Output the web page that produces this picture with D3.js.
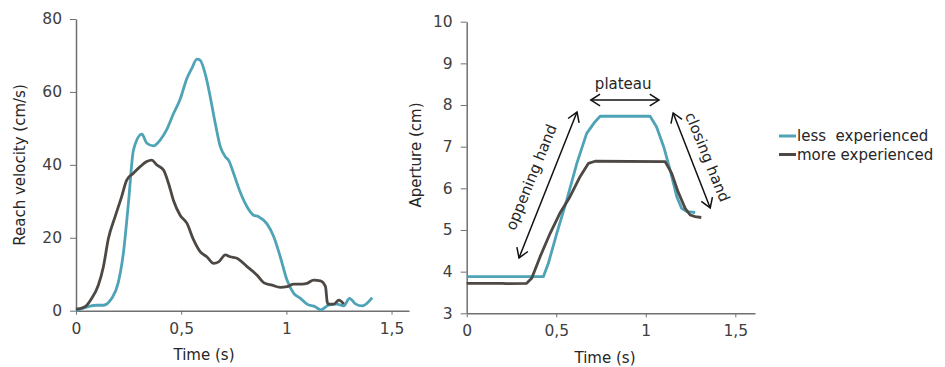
<!DOCTYPE html>
<html lang="en">
<head>
  <meta charset="UTF-8">
  <title>Reach velocity and aperture</title>
  <script src="https://d3js.org/d3.v7.min.js"></script>
  <style>
    body {
      margin: 0;
      background: #fff;
      font-family: "DejaVu Sans", sans-serif;
    }
    .tick text { fill: #404040; font-size: 15.5px; font-family: "DejaVu Sans", sans-serif; }
    .axis path, .axis line { stroke: #707070; }
    .title { fill: #262626; font-size: 15px; }
  </style>
</head>
<body>
<svg width="945" height="367"></svg>

<script>
  // left panel: reach velocity (time s, cm/s)
  const lessVelT = [0, 0.1, 0.13, 0.17, 0.2, 0.225, 0.25, 0.273, 0.313, 0.336, 0.368, 0.4, 0.43, 0.463, 0.495, 0.527, 0.55, 0.575, 0.59, 0.614, 0.638, 0.662, 0.686, 0.71, 0.725, 0.749, 0.78, 0.813, 0.844, 0.868, 0.908, 0.94, 0.971, 1.003, 1.035, 1.067, 1.098, 1.138, 1.162, 1.2, 1.24, 1.273, 1.3, 1.33, 1.36, 1.408];
  const lessVel = [0, 1.5, 1.5, 3.4, 7.5, 15.7, 30, 44, 48.4, 46, 45.2, 46.8, 49.5, 54, 58, 63.7, 66.4, 69, 68.7, 65, 58.7, 51.4, 45, 42.2, 41.3, 37.7, 32.6, 28.5, 26.2, 25.8, 23.8, 20.3, 14.8, 8.4, 4.75, 3.4, 1.8, 1.1, 0.2, 1.5, 1.8, 1.3, 3.4, 1.8, 1.3, 3.6];
  const moreVelT = [0, 0.043, 0.075, 0.106, 0.13, 0.154, 0.186, 0.217, 0.241, 0.273, 0.305, 0.336, 0.36, 0.384, 0.416, 0.44, 0.463, 0.495, 0.527, 0.559, 0.59, 0.622, 0.654, 0.678, 0.71, 0.733, 0.765, 0.813, 0.86, 0.892, 0.932, 0.971, 1.003, 1.035, 1.075, 1.098, 1.13, 1.162, 1.186, 1.194, 1.2, 1.225, 1.25, 1.273];
  const moreVel = [0.4, 1.1, 3.4, 7, 12, 19.8, 25.8, 31.3, 35.8, 37.7, 39.5, 40.9, 41.3, 40, 38.6, 34.9, 30.3, 26.2, 24, 19.4, 16.2, 14.8, 13, 13.4, 15.3, 14.8, 14.4, 12.1, 9.8, 7.7, 7, 6.4, 6.6, 7.3, 7.3, 7.5, 8.4, 8.2, 6.6, 2.5, 1.8, 1.8, 2.9, 1.8];

  // right panel: aperture (time s, cm)
  const lessApT = [0, 0.428, 0.456, 0.503, 0.559, 0.615, 0.67, 0.717, 0.745, 1.024, 1.06, 1.1, 1.136, 1.173, 1.2, 1.23, 1.276];
  const lessAp = [3.88, 3.88, 4.2, 4.92, 5.72, 6.6, 7.32, 7.6, 7.73, 7.73, 7.48, 7.0, 6.44, 5.8, 5.52, 5.44, 5.42];
  const moreApT = [0, 0.2, 0.22, 0.335, 0.363, 0.41, 0.466, 0.52, 0.577, 0.633, 0.68, 0.717, 1.108, 1.145, 1.18, 1.22, 1.248, 1.276, 1.31];
  const moreAp = [3.72, 3.72, 3.71, 3.72, 3.84, 4.36, 4.92, 5.4, 5.8, 6.28, 6.6, 6.65, 6.64, 6.36, 5.92, 5.52, 5.36, 5.32, 5.3];

  const timeTicks = [0, 0.5, 1, 1.5];
  const velTicks = [0, 20, 40, 60, 80];
  const apTicks = [3, 4, 5, 6, 7, 8, 9, 10];

  const seriesNames = ["less  experienced", "more experienced"];
  const seriesColors = ["#4fa3b6", "#4d4843"];

  // annotations on the aperture panel, in data units
  const arrows = [
    { from: [0.693, 8.12], to: [1.074, 8.12] },
    { from: [0.292, 4.33], to: [0.616, 7.83] },
    { from: [1.153, 7.81], to: [1.36, 5.53] }
  ];
  const notes = [
    { text: "plateau", at: [0.874, 8.5], angle: 0 },
    { text: "oppening hand", at: [0.36, 6.27], angle: -68 },
    { text: "closing hand", at: [1.345, 6.75], angle: 68 }
  ];

  const svg = d3.select("svg");
  const fmt = d => String(d).replace(".", ",");

  function panel(opts) {
    const x = d3.scaleLinear().domain(opts.xDomain).range(opts.xRange);
    const y = d3.scaleLinear().domain(opts.yDomain).range(opts.yRange);

    svg.append("g").attr("class", "axis")
      .attr("transform", `translate(0,${opts.yRange[0]})`)
      .call(d3.axisBottom(x).tickValues(timeTicks).tickFormat(fmt).tickSize(4).tickSizeOuter(0).tickPadding(8));

    svg.append("g").attr("class", "axis")
      .attr("transform", `translate(${opts.xRange[0]},0)`)
      .call(d3.axisLeft(y).tickValues(opts.yTicks).tickFormat(fmt).tickSize(6).tickSizeOuter(0).tickPadding(8));

    svg.selectAll(".axis .domain").attr("stroke-width", 1.5);

    opts.series.forEach((s, i) => {
      const line = d3.line()
        .x((d, k) => x(s.t[k]))
        .y(d => y(d))
        .curve(opts.curve);
      svg.append("path")
        .datum(s.v)
        .attr("fill", "none")
        .attr("stroke", seriesColors[i])
        .attr("stroke-width", 2.8)
        .attr("stroke-linejoin", "round")
        .attr("d", line);
    });

    svg.append("text").attr("class", "title")
      .attr("x", opts.xTitle[0]).attr("y", opts.xTitle[1])
      .attr("text-anchor", "middle")
      .text("Time (s)");

    svg.append("text").attr("class", "title")
      .attr("transform", `translate(${opts.yTitle[0]},${opts.yTitle[1]}) rotate(-90)`)
      .attr("text-anchor", "middle")
      .text(opts.yLabel);

    return { x, y };
  }

  panel({
    xDomain: [0, 1.583], xRange: [76, 409],
    yDomain: [0, 80], yRange: [310.7, 19],
    yTicks: velTicks,
    series: [{ t: lessVelT, v: lessVel }, { t: moreVelT, v: moreVel }],
    curve: d3.curveMonotoneX,
    xTitle: [204, 360], yTitle: [25, 165],
    yLabel: "Reach velocity (cm/s)"
  });

  const ap = panel({
    xDomain: [0, 1.61], xRange: [466.7, 755],
    yDomain: [3, 10], yRange: [313.3, 21.7],
    yTicks: apTicks,
    series: [{ t: lessApT, v: lessAp }, { t: moreApT, v: moreAp }],
    curve: d3.curveLinear,
    xTitle: [605, 363], yTitle: [421, 155],
    yLabel: "Aperture (cm)"
  });

  // double-headed arrows
  const head = 11, spread = Math.PI / 5.5;
  arrows.forEach(a => {
    const p0 = [ap.x(a.from[0]), ap.y(a.from[1])];
    const p1 = [ap.x(a.to[0]), ap.y(a.to[1])];
    const g = svg.append("g").attr("stroke", "#111").attr("stroke-width", 1.5).attr("fill", "none");
    g.append("line").attr("x1", p0[0]).attr("y1", p0[1]).attr("x2", p1[0]).attr("y2", p1[1]);
    [[p0, p1], [p1, p0]].forEach(([tail, tip]) => {
      const ang = Math.atan2(tail[1] - tip[1], tail[0] - tip[0]);
      const pts = [
        [tip[0] + head * Math.cos(ang - spread), tip[1] + head * Math.sin(ang - spread)],
        tip,
        [tip[0] + head * Math.cos(ang + spread), tip[1] + head * Math.sin(ang + spread)]
      ];
      g.append("path").attr("d", d3.line()(pts));
    });
  });

  notes.forEach(n => {
    svg.append("text")
      .attr("transform", `translate(${ap.x(n.at[0])},${ap.y(n.at[1])}) rotate(${n.angle})`)
      .attr("text-anchor", "middle")
      .attr("dy", "0.35em")
      .attr("fill", "#262626")
      .style("font-size", "15px")
      .text(n.text);
  });

  // legend
  const legend = svg.append("g").attr("transform", "translate(779,136)");
  seriesNames.forEach((name, i) => {
    const row = legend.append("g").attr("transform", `translate(0,${i * 18.5})`);
    row.append("line").attr("x1", 0).attr("x2", 17).attr("y1", 0).attr("y2", 0)
      .attr("stroke", seriesColors[i]).attr("stroke-width", 3);
    row.append("text").attr("x", 18).attr("dy", "0.35em")
      .attr("fill", "#262626").style("font-size", "15px")
      .style("white-space", "pre")
      .text(name);
  });
</script>
</body>
</html>
